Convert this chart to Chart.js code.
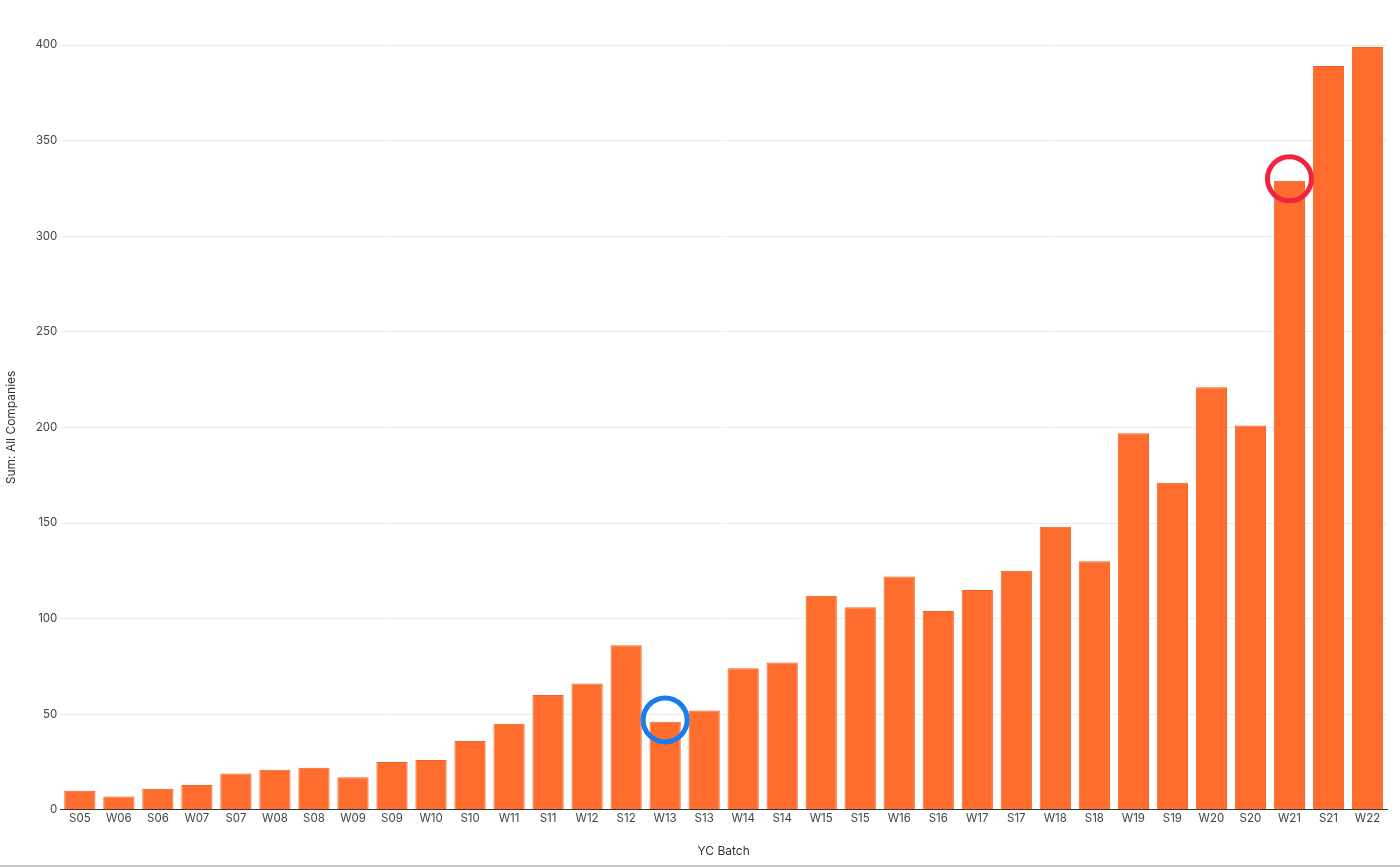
<!DOCTYPE html>
<html>
<head>
<meta charset="utf-8">
<script src="https://cdn.jsdelivr.net/npm/chart.js@4/dist/chart.umd.min.js"></script>
<style>
  html, body { margin: 0; padding: 0; background: #fff; }
  #wrap { position: relative; width: 1400px; height: 865px; border-bottom: 2px solid #c9c9c9; }
</style>
</head>
<body>
<div id="wrap"><canvas id="batch-chart"></canvas></div>
<script>
const batches = ['S05', 'W06', 'S06', 'W07', 'S07', 'W08', 'S08', 'W09', 'S09', 'W10', 'S10', 'W11',
  'S11', 'W12', 'S12', 'W13', 'S13', 'W14', 'S14', 'W15', 'S15', 'W16', 'S16', 'W17', 'S17', 'W18',
  'S18', 'W19', 'S19', 'W20', 'S20', 'W21', 'S21', 'W22'];
const companies = [10, 7, 11, 13, 19, 21, 22, 17, 25, 26, 36, 45,
  60, 66, 86, 46, 52, 74, 77, 112, 106, 122, 104, 115, 125, 148,
  130, 197, 171, 221, 201, 329, 389, 399];
const yTicks = [0, 50, 100, 150, 200, 250, 300, 350, 400];

// highlighted batches: [label, colour]
const marks = [['W13', '#1a7cf0'], ['W21', '#f2233f']];

const circleMarks = {
  id: 'circleMarks',
  afterDatasetsDraw(chart) {
    const ctx = chart.ctx;
    const x = chart.scales.x, y = chart.scales.y;
    marks.forEach(([label, color]) => {
      const i = batches.indexOf(label);
      ctx.save();
      ctx.beginPath();
      ctx.arc(x.getPixelForValue(i), y.getPixelForValue(companies[i] + 1), 22, 0, Math.PI * 2);
      ctx.lineWidth = 5;
      ctx.strokeStyle = color;
      ctx.stroke();
      ctx.restore();
    });
  }
};

const tickFont = { family: 'Inter, "Noto Sans", sans-serif', size: 11.5 };

new Chart(document.getElementById('batch-chart'), {
  type: 'bar',
  data: {
    labels: batches,
    datasets: [{
      label: 'Sum: All Companies',
      data: companies,
      backgroundColor: '#fe6d2d',
      borderColor: '#f0621f',
      borderWidth: 1,
      barPercentage: 0.8,
      categoryPercentage: 1.0
    }]
  },
  options: {
    responsive: true,
    maintainAspectRatio: false,
    animation: false,
    layout: { padding: { top: 45, right: 13, left: 0, bottom: 2 } },
    scales: {
      x: {
        grid: { display: false, drawTicks: false },
        border: { color: '#333', width: 1 },
        ticks: { color: '#444', font: tickFont, padding: 2, maxRotation: 0, autoSkip: false },
        title: { display: true, text: 'YC Batch', color: '#333', font: { family: tickFont.family, size: 12 }, padding: { top: 17 } }
      },
      y: {
        min: 0,
        max: 400,
        afterBuildTicks: (axis) => { axis.ticks = yTicks.map(v => ({ value: v })); },
        grid: { color: '#ececec', drawTicks: false },
        border: { display: false },
        ticks: { color: '#444', font: tickFont, padding: 3 },
        title: { display: true, text: 'Sum: All Companies', color: '#333', font: { family: tickFont.family, size: 12 }, padding: { top: 4, bottom: 14 } }
      }
    },
    plugins: {
      legend: { display: false },
      tooltip: { enabled: false }
    }
  },
  plugins: [circleMarks]
});
</script>
</body>
</html>
